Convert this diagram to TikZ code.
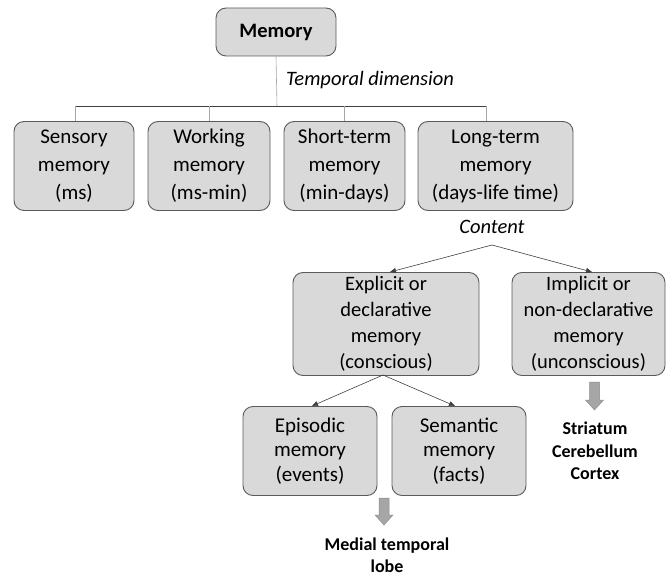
\documentclass[tikz,border=0pt]{standalone}
\usepackage{fontspec}
\setmainfont{Carlito}
\usetikzlibrary{arrows.meta}
\definecolor{boxfill}{HTML}{D9D9D9}
\definecolor{boxdraw}{HTML}{5A5A5A}
\definecolor{linec}{HTML}{404040}
\definecolor{blockfill}{HTML}{A6A6A6}
\definecolor{blockdraw}{HTML}{8C8C8C}
\tikzset{
  membox/.style={draw=boxdraw, fill=boxfill, rounded corners=10pt, line width=0.9pt,
    align=center, inner sep=0pt, font=\fontsize{21}{28}\selectfont},
  fourline/.style={font=\fontsize{20.5}{26}\selectfont},
  tightline/.style={font=\fontsize{21}{24.5}\selectfont},
  labeltext/.style={font=\fontsize{20.5}{24}\selectfont\itshape, inner sep=0pt},
  regiontext/.style={font=\fontsize{18}{22.5}\selectfont\bfseries, align=center, inner sep=0pt},
  conn/.style={draw=linec, line width=0.6pt},
  arr/.style={conn, -{Triangle[length=6pt,width=5pt]}},
  blockarrow/.style={fill=blockfill, draw=blockdraw, line width=0.5pt}
}
\begin{document}
\begin{tikzpicture}[x=1pt,y=-1pt]
\useasboundingbox (0,0) rectangle (666,577);
% top
\node[membox, minimum width=120pt, minimum height=48pt, font=\fontsize{20.5}{24}\selectfont\bfseries] (mem) at (276,32) {Memory};
\node[labeltext, anchor=west] (temp) at (286,80) {Temporal dimension};
% level 2
\node[membox, minimum width=120pt, minimum height=89pt] (sens) at (74,166) {Sensory\\memory\\(ms)};
\node[membox, minimum width=122pt, minimum height=89pt] (work) at (209,166) {Working\\memory\\(ms-min)};
\node[membox, minimum width=121pt, minimum height=89pt] (short) at (344.5,166) {Short-term\\memory\\(min-days)};
\node[membox, minimum width=155pt, minimum height=89pt] (long) at (495.5,166) {Long-term\\memory\\(days-life time)};
% tree connectors
\coordinate (hub) at (277,106);
\coordinate (hl) at (75,106);
\coordinate (hr) at (486,106);
\draw[conn, draw=gray!70] (mem.south) -- (hub);
\draw[conn] (hl) -- (hr);
\draw[conn, draw=gray!70] (hl) -- (hl |- sens.north);
\draw[conn, draw=gray!70] (hl -| work.north) -- (work.north);
\draw[conn, draw=gray!70] (hl -| short.north) -- (short.north);
\draw[conn, draw=gray!70] (hr) -- (hr |- long.north);
% content
\node[labeltext] (cont) at (492,227) {Content};
\node[membox, fourline, minimum width=186pt, minimum height=103pt] (expl) at (386,324) {Explicit or\\declarative\\memory\\(conscious)};
\node[membox, fourline, minimum width=153pt, minimum height=103pt] (impl) at (588.5,324) {Implicit or\\non-declarative\\memory\\(unconscious)};
\coordinate (cfork) at (492,245);
\coordinate (explin) at (390,272);
\coordinate (implin) at (592,272);
\draw[arr] (cfork) -- (explin);
\draw[arr] (cfork) -- (implin);
% explicit subtypes
\node[membox, tightline, minimum width=134pt, minimum height=89pt] (epis) at (310,451) {Episodic\\memory\\(events)};
\node[membox, tightline, minimum width=134pt, minimum height=89pt] (sema) at (459,451) {Semantic\\memory\\(facts)};
\coordinate (efork) at (383,375);
\coordinate (episin) at (312,406);
\coordinate (semain) at (455,406);
\draw[arr] (efork) -- (episin);
\draw[arr] (efork) -- (semain);
% brain regions
\coordinate (ba1) at (384,498);
\coordinate (ba2) at (594.5,382);
\draw[blockarrow] (ba1) ++(-5,0) -- ++(10,0) -- ++(0,17) -- ++(4,0) -- ++(-9,10) -- ++(-9,-10) -- ++(4,0) -- cycle;
\draw[blockarrow] (ba2) ++(-5,0) -- ++(10,0) -- ++(0,18) -- ++(4,0) -- ++(-9,10) -- ++(-9,-10) -- ++(4,0) -- cycle;
\node[regiontext] (mtl) at (387,555) {Medial temporal\\lobe};
\node[regiontext] (stri) at (595,451) {Striatum\\Cerebellum\\Cortex};
\end{tikzpicture}
\end{document}
